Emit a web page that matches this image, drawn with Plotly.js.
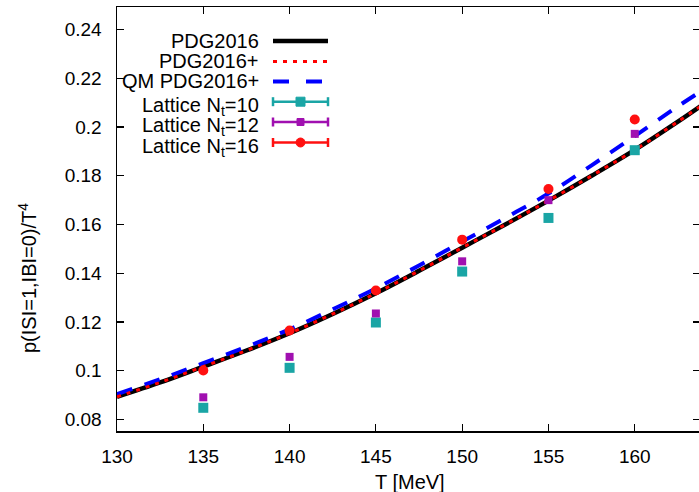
<!DOCTYPE html>
<html>
<head>
<meta charset="utf-8">
<script src="https://cdn.plot.ly/plotly-3.0.1.min.js"></script>
<style>
html,body{margin:0;padding:0;overflow:hidden;background:#fff;}
#chart{width:700px;height:492px;}
</style>
</head>
<body>
<div id="chart"></div>
<script>
// ---- data ----
const curveT = [130, 132.5, 135, 137.5, 140, 142.5, 145, 147.5, 150, 152.5, 155, 157.5, 160, 162.5, 163.8];
const pdg2016 = [0.0893, 0.0952, 0.1017, 0.1083, 0.1154, 0.1233, 0.1318, 0.1410, 0.1505, 0.1600, 0.1698, 0.1800, 0.1906, 0.2022, 0.2085];
const pdg2016plus = [0.0893, 0.0952, 0.1017, 0.1083, 0.1154, 0.1233, 0.1318, 0.1410, 0.1505, 0.1600, 0.1698, 0.1800, 0.1906, 0.2022, 0.2085];
const qmPdg2016plus = [0.0904, 0.0965, 0.1031, 0.1098, 0.1170, 0.1252, 0.1338, 0.1432, 0.1530, 0.1627, 0.1727, 0.1843, 0.1963, 0.2085, 0.2145];

const latticeT = [135, 140, 145, 150, 155, 160];
const latticeNt10 = [0.0848, 0.1012, 0.1198, 0.1407, 0.1627, 0.1905];
const latticeNt12 = [0.0891, 0.1057, 0.1235, 0.1449, 0.1700, 0.1972];
const latticeNt16 = [0.1001, 0.1165, 0.1329, 0.1538, 0.1746, 0.2031];

const xTicks = [130, 135, 140, 145, 150, 155, 160];
const yTicks = [0.08, 0.1, 0.12, 0.14, 0.16, 0.18, 0.2, 0.22, 0.24];
const yTickText = ['0.08', '0.1', '0.12', '0.14', '0.16', '0.18', '0.2', '0.22', '0.24'];

const legendNames = ['PDG2016', 'PDG2016+', 'QM PDG2016+', 'Lattice N<sub>t</sub>=10', 'Lattice N<sub>t</sub>=12', 'Lattice N<sub>t</sub>=16'];

// ---- style ----
const FONT = 'Liberation Sans, Arial, Helvetica, sans-serif';
const cBlack = '#000000', cRed = '#ff0000', cBlue = '#0000ff', cTeal = '#1aa5a5', cPurple = '#a010b0', cRed2 = '#ff1010';

const W = 700, H = 492, ML = 117, MR = 0, MT = 7, MB = 61;
const pw = W - ML - MR, ph = H - MT - MB;
const px = x => (x - ML) / pw;
const py = y => (H - MB - y) / ph;

const traces = [
  {x: curveT, y: pdg2016, mode: 'lines', line: {color: cBlack, width: 4.5, shape: 'spline'}, name: legendNames[0]},
  {x: curveT, y: qmPdg2016plus, mode: 'lines', line: {color: cBlue, width: 4, dash: '16px,13px', shape: 'spline'}, name: legendNames[2]},
  {x: curveT, y: pdg2016plus, mode: 'lines', line: {color: cRed, width: 3, dash: '4px,6px', shape: 'spline'}, name: legendNames[1]},
  {x: latticeT, y: latticeNt10, mode: 'markers', marker: {color: cTeal, size: 10, symbol: 'square'}, name: legendNames[3]},
  {x: latticeT, y: latticeNt12, mode: 'markers', marker: {color: cPurple, size: 8, symbol: 'square'}, name: legendNames[4]},
  {x: latticeT, y: latticeNt16, mode: 'markers', marker: {color: cRed2, size: 10, symbol: 'circle'}, name: legendNames[5]}
];

// custom gnuplot-style legend
const rowsY = [41, 61.5, 81.5, 101.7, 122, 142.5];
const textRight = 261, sx0 = 273, sx1 = 328, smid = 300.5;
const annotations = [];
const shapes = [];
legendNames.forEach((n, i) => {
  const sub = i >= 3;
  annotations.push({
    xref: 'paper', yref: 'paper', x: px(textRight), y: py(rowsY[i] + (sub ? 4.5 : 0)),
    xanchor: 'right', yanchor: 'middle', text: n, showarrow: false,
    font: {family: FONT, size: 20, color: '#000'}
  });
});
shapes.push({type: 'line', xref: 'paper', yref: 'paper', x0: px(sx0), x1: px(sx1), y0: py(rowsY[0]), y1: py(rowsY[0]), line: {color: cBlack, width: 4.5}});
shapes.push({type: 'line', xref: 'paper', yref: 'paper', x0: px(sx0), x1: px(sx1), y0: py(rowsY[1]), y1: py(rowsY[1]), line: {color: cRed, width: 3, dash: '4px,6px'}});
shapes.push({type: 'line', xref: 'paper', yref: 'paper', x0: px(sx0), x1: px(sx1), y0: py(rowsY[2]), y1: py(rowsY[2]), line: {color: cBlue, width: 4, dash: '16px,17px'}});
const latCols = [cTeal, cPurple, cRed2];
[3, 4, 5].forEach((r, k) => {
  const c = latCols[k], yy = rowsY[r];
  shapes.push({type: 'line', xref: 'paper', yref: 'paper', x0: px(sx0), x1: px(sx1), y0: py(yy), y1: py(yy), line: {color: c, width: 2.5}});
  shapes.push({type: 'line', xref: 'paper', yref: 'paper', x0: px(sx0), x1: px(sx0), y0: py(yy - 4.5), y1: py(yy + 4.5), line: {color: c, width: 2.5}});
  shapes.push({type: 'line', xref: 'paper', yref: 'paper', x0: px(sx1), x1: px(sx1), y0: py(yy - 4.5), y1: py(yy + 4.5), line: {color: c, width: 2.5}});
  const s = (k === 1) ? 3.5 : 4.5;
  shapes.push({type: (k === 2 ? 'circle' : 'rect'), xref: 'paper', yref: 'paper', x0: px(smid - s), x1: px(smid + s), y0: py(yy - s), y1: py(yy + s), fillcolor: c, line: {color: c, width: 1}});
});

// axis titles
annotations.push({xref: 'paper', yref: 'paper', x: px(410), y: py(482), xanchor: 'center', yanchor: 'middle',
  text: 'T [MeV]', showarrow: false, font: {family: FONT, size: 20, color: '#000'}});
annotations.push({xref: 'paper', yref: 'paper', x: px(27), y: py(278), xanchor: 'center', yanchor: 'middle', textangle: -90,
  text: 'p(ISI=1,IBI=0)/T<sup>4</sup>', showarrow: false, font: {family: FONT, size: 20, color: '#000'}});

const axisCommon = {
  showgrid: false, zeroline: false, showline: true, linecolor: '#000', linewidth: 1.5,
  mirror: 'ticks', ticks: 'inside', ticklen: 7, tickwidth: 1.2, tickcolor: '#000',
  tickfont: {family: FONT, size: 19, color: '#000'}
};

const layout = {
  width: W, height: H,
  margin: {l: ML, r: MR, t: MT, b: MB, pad: 0},
  paper_bgcolor: '#fff', plot_bgcolor: '#fff',
  showlegend: false,
  xaxis: Object.assign({}, axisCommon, {range: [130, 163.78], tickmode: 'array', tickvals: xTicks, ticklabelstandoff: 8}),
  yaxis: Object.assign({}, axisCommon, {range: [0.07528, 0.24925], tickmode: 'array', tickvals: yTicks, ticktext: yTickText, ticklabelstandoff: 10}),
  annotations: annotations,
  shapes: shapes
};

Plotly.newPlot('chart', traces, layout, {staticPlot: true, displayModeBar: false});
</script>
</body>
</html>
